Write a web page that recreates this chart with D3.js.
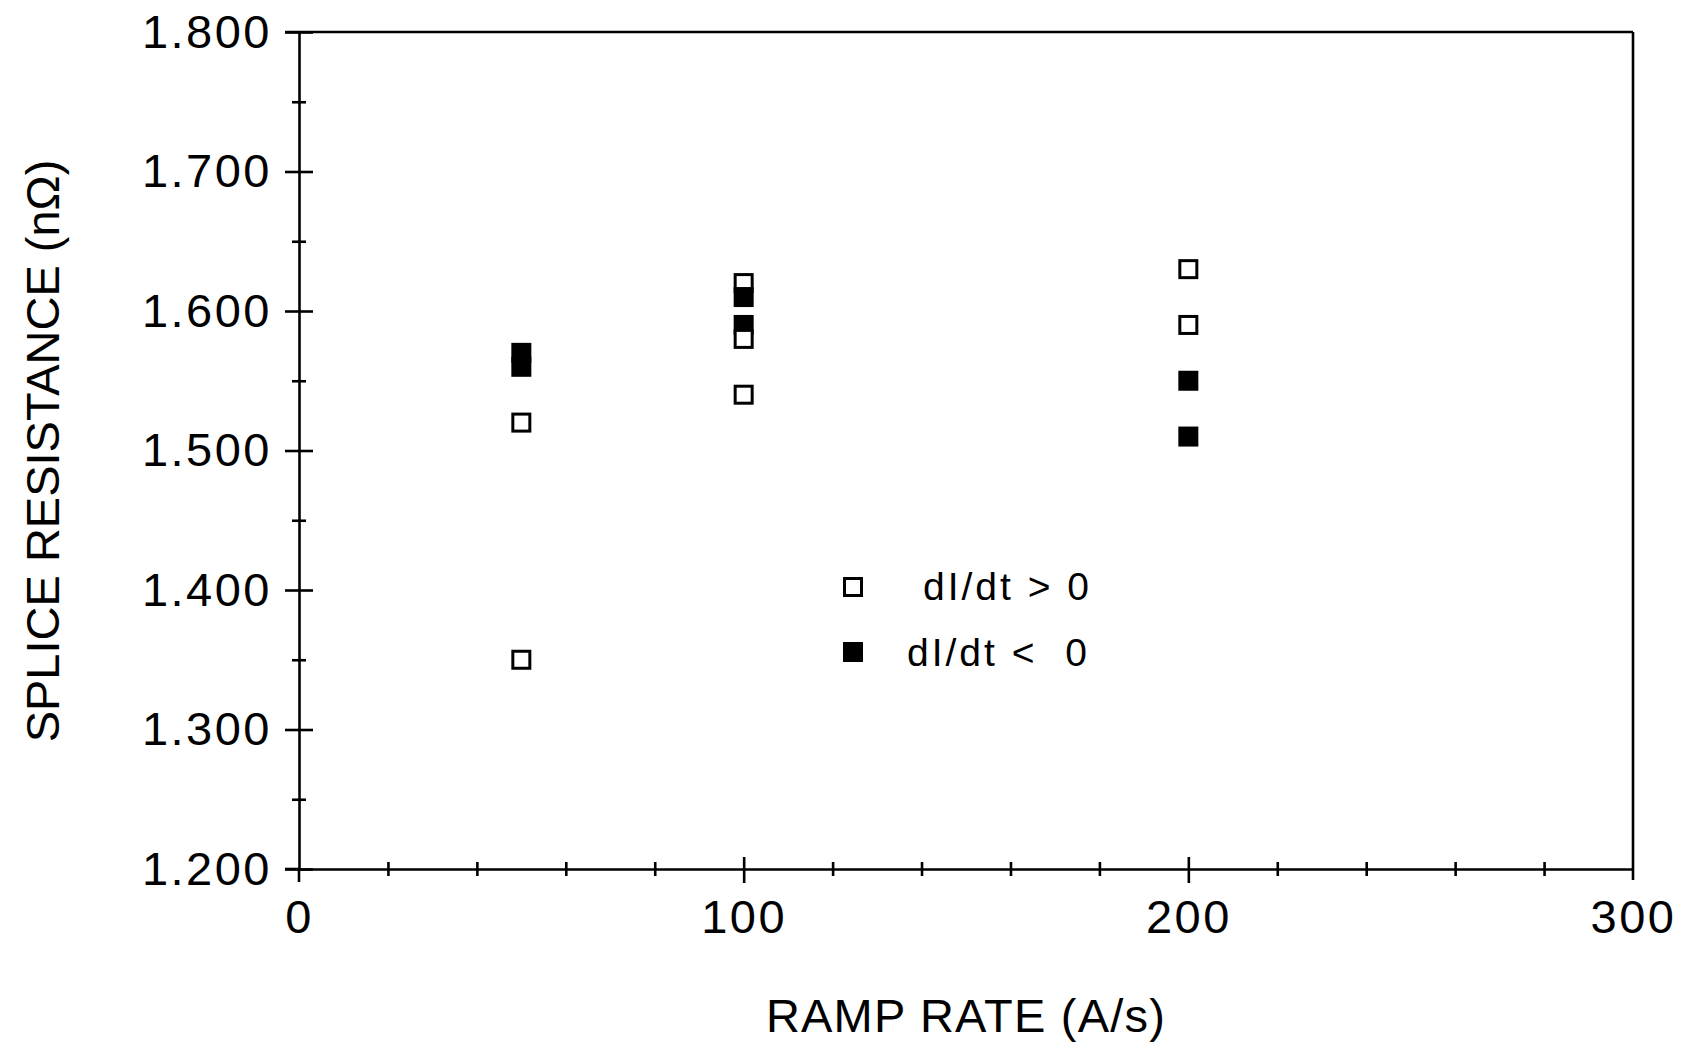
<!DOCTYPE html>
<html>
<head>
<meta charset="utf-8">
<script src="https://cdn.jsdelivr.net/npm/d3@7"></script>
<style>
  html, body { margin: 0; padding: 0; background: #fff; }
  svg { display: block; }
  text { font-family: "Liberation Sans", Arial, sans-serif; fill: #000; }
</style>
</head>
<body>
<svg id="chart" width="1687" height="1046"></svg>
<script>
// ---- data ----
const seriesNames = ["dI/dt > 0", "dI/dt <  0"];
const rampOpen   = [50, 50, 100, 100, 100, 200, 200];
const resOpen    = [1.520, 1.350, 1.620, 1.580, 1.540, 1.630, 1.590];
const rampFilled = [50, 50, 100, 100, 200, 200];
const resFilled  = [1.570, 1.560, 1.610, 1.590, 1.550, 1.510];
const xMajorTicks = [0, 100, 200, 300];
const xMinorTicks = [20, 40, 60, 80, 120, 140, 160, 180, 220, 240, 260, 280];
const yMajorTicks = [1.2, 1.3, 1.4, 1.5, 1.6, 1.7, 1.8];
const yMinorTicks = [1.25, 1.35, 1.45, 1.55, 1.65, 1.75];
const xTitle = "RAMP RATE (A/s)";
const yTitle = "SPLICE RESISTANCE (nΩ)";

// ---- layout ----
const pLeft = 299, pRight = 1633, pTop = 32, pBottom = 869;
const svg = d3.select("#chart");
const x = d3.scaleLinear().domain([0, 300]).range([pLeft, pRight]);
const y = d3.scaleLinear().domain([1.2, 1.8]).range([pBottom, pTop]);

const AX = 2.6;

function styleAxis(g) {
  g.selectAll("path.domain").attr("stroke", "#000").attr("stroke-width", AX);
  g.selectAll(".tick line").attr("stroke", "#000").attr("stroke-width", AX);
  g.selectAll(".tick text").attr("fill", "#000");
}

// frame top & right
svg.append("line").attr("x1", x(0) - 14).attr("x2", x(300)).attr("y1", y(1.8)).attr("y2", y(1.8))
  .attr("stroke", "#000").attr("stroke-width", AX);
svg.append("line").attr("x1", x(300)).attr("x2", x(300)).attr("y1", y(1.8)).attr("y2", y(1.2) + 11)
  .attr("stroke", "#000").attr("stroke-width", AX);

// y axis: major ticks with labels (outer part)
const yAxL = svg.append("g").attr("transform", `translate(${pLeft},0)`)
  .call(d3.axisLeft(y).tickValues(yMajorTicks).tickSize(14).tickPadding(13)
    .tickFormat(d3.format(".3f")).tickSizeOuter(0));
yAxL.selectAll(".tick text").attr("font-size", 47).attr("letter-spacing", 2.5)
  .attr("font-family", "'Liberation Sans', Arial, sans-serif");
styleAxis(yAxL);
// inner part of major ticks
const yAxR = svg.append("g").attr("transform", `translate(${pLeft},0)`)
  .call(d3.axisRight(y).tickValues(yMajorTicks).tickSize(14).tickFormat(""));
yAxR.select("path.domain").remove();
styleAxis(yAxR);
// minor ticks crossing
[d3.axisLeft, d3.axisRight].forEach(ax => {
  const g = svg.append("g").attr("transform", `translate(${pLeft},0)`)
    .call(ax(y).tickValues(yMinorTicks).tickSize(7).tickFormat(""));
  g.select("path.domain").remove();
  styleAxis(g);
});
// y axis extension below x axis
svg.append("line").attr("x1", pLeft).attr("x2", pLeft).attr("y1", pBottom).attr("y2", pBottom + 13)
  .attr("stroke", "#000").attr("stroke-width", AX);

// x axis
const xAxB = svg.append("g").attr("transform", `translate(0,${pBottom})`)
  .call(d3.axisBottom(x).tickValues(xMajorTicks.slice(1, 3)).tickSize(14).tickFormat("").tickSizeOuter(0));
styleAxis(xAxB);
const xAxT = svg.append("g").attr("transform", `translate(0,${pBottom})`)
  .call(d3.axisTop(x).tickValues(xMajorTicks.slice(1, 3)).tickSize(12).tickFormat(""));
xAxT.select("path.domain").remove();
styleAxis(xAxT);
// labels for x major ticks
const xLab = svg.append("g").attr("transform", `translate(0,${pBottom})`)
  .call(d3.axisBottom(x).tickValues(xMajorTicks).tickSize(0).tickPadding(31).tickFormat(d3.format("d")));
xLab.select("path.domain").remove();
xLab.selectAll(".tick text").attr("font-size", 47).attr("letter-spacing", 2.5)
  .attr("font-family", "'Liberation Sans', Arial, sans-serif");
[d3.axisBottom, d3.axisTop].forEach(ax => {
  const g = svg.append("g").attr("transform", `translate(0,${pBottom})`)
    .call(ax(x).tickValues(xMinorTicks).tickSize(7).tickFormat(""));
  g.select("path.domain").remove();
  styleAxis(g);
});
// left stub of x axis
svg.append("line").attr("x1", pLeft - 14).attr("x2", pLeft).attr("y1", pBottom).attr("y2", pBottom)
  .attr("stroke", "#000").attr("stroke-width", AX);

// axis titles
svg.append("text").attr("x", 966).attr("y", 1032).attr("text-anchor", "middle")
  .attr("font-size", 47).attr("letter-spacing", 1.2).text(xTitle);
svg.append("text").attr("transform", `translate(59,451) rotate(-90)`).attr("text-anchor", "middle")
  .attr("font-size", 47).attr("letter-spacing", 0).text(yTitle);

// ---- points ----
const S = 20;
const pts = [];
rampOpen.forEach((r, i) => pts.push({ r, v: resOpen[i], filled: false }));
rampFilled.forEach((r, i) => pts.push({ r, v: resFilled[i], filled: true }));
pts.sort((a, b) => b.v - a.v);
svg.append("g").selectAll("rect").data(pts).join("rect")
  .attr("x", d => x(d.r) - S / 2 + 1.5)
  .attr("y", d => y(d.v) - S / 2 + 1.5)
  .attr("width", S - 3).attr("height", S - 3)
  .attr("fill", d => d.filled ? "#000" : "#fff")
  .attr("stroke", "#000").attr("stroke-width", 3);

// ---- legend ----
const legend = [
  { name: seriesNames[0], filled: false, mx: 853, my: 587, tx: 923, ty: 600 },
  { name: seriesNames[1], filled: true,  mx: 853, my: 652, tx: 907, ty: 666 }
];
const lg = svg.append("g");
lg.selectAll("rect").data(legend).join("rect")
  .attr("x", d => d.mx - S / 2 + 1.5).attr("y", d => d.my - S / 2 + 1.5)
  .attr("width", S - 3).attr("height", S - 3)
  .attr("fill", d => d.filled ? "#000" : "#fff")
  .attr("stroke", "#000").attr("stroke-width", 3);
lg.selectAll("text").data(legend).join("text")
  .attr("x", d => d.tx).attr("y", d => d.ty)
  .attr("font-size", 39).attr("letter-spacing", 3)
  .style("white-space", "pre")
  .text(d => d.name);
</script>
</body>
</html>
